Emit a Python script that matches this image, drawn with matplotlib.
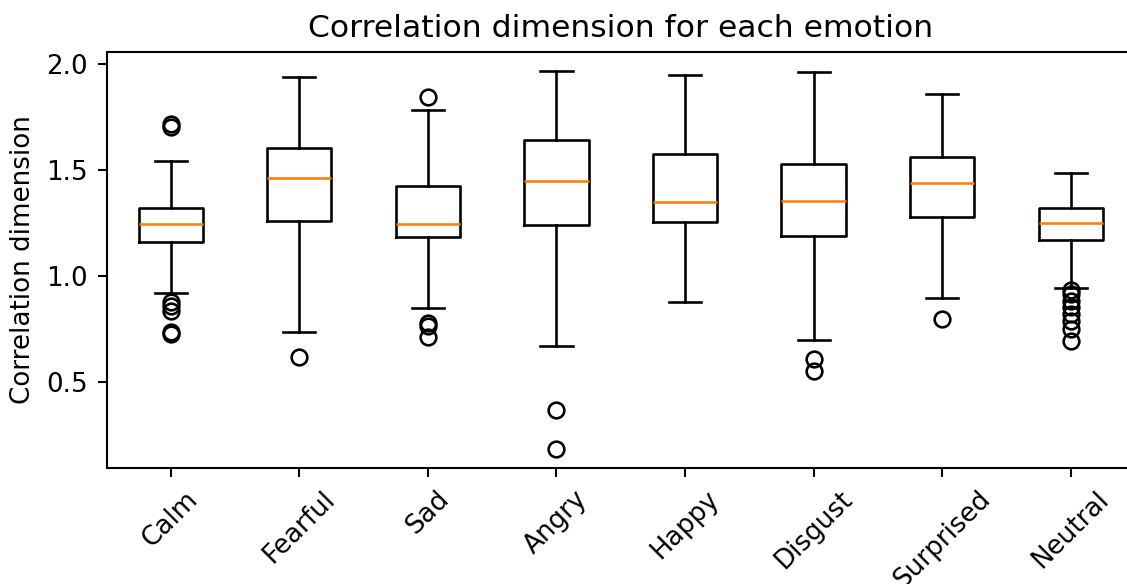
import matplotlib
matplotlib.use("Agg")
import matplotlib.pyplot as plt

emotions = ["Calm", "Fearful", "Sad", "Angry", "Happy", "Disgust", "Surprised", "Neutral"]

# five-number summaries per emotion
whisker_low = [0.92, 0.74, 0.85, 0.67, 0.88, 0.70, 0.90, 0.945]
q1 = [1.162, 1.262, 1.185, 1.242, 1.257, 1.190, 1.279, 1.171]
median = [1.246, 1.464, 1.246, 1.450, 1.350, 1.355, 1.439, 1.250]
q3 = [1.322, 1.608, 1.425, 1.642, 1.579, 1.529, 1.562, 1.322]
whisker_high = [1.543, 1.940, 1.783, 1.968, 1.950, 1.962, 1.859, 1.487]

outliers = [
    [1.717, 1.705, 0.879, 0.862, 0.838, 0.738, 0.730],
    [0.618],
    [1.845, 0.780, 0.765, 0.714],
    [0.372, 0.187],
    [],
    [0.610, 0.554],
    [0.800],
    [0.935, 0.915, 0.885, 0.854, 0.822, 0.791, 0.752, 0.697],
]

stats = []
for i, name in enumerate(emotions):
    stats.append({
        "label": name,
        "whislo": whisker_low[i],
        "q1": q1[i],
        "med": median[i],
        "q3": q3[i],
        "whishi": whisker_high[i],
        "fliers": outliers[i],
    })

DPI = 188
fig = plt.figure(figsize=(1127 / DPI, 584 / DPI), dpi=DPI)
ax = fig.add_axes([0.0945, 0.1992, 0.9126, 0.7112])

ax.bxp(stats, showfliers=True)

ax.set_title("Correlation dimension for each emotion")
ax.set_ylabel("Correlation dimension")
plt.setp(ax.get_xticklabels(), rotation=45)

fig.savefig("out.png", dpi=DPI)
plt.close(fig)
